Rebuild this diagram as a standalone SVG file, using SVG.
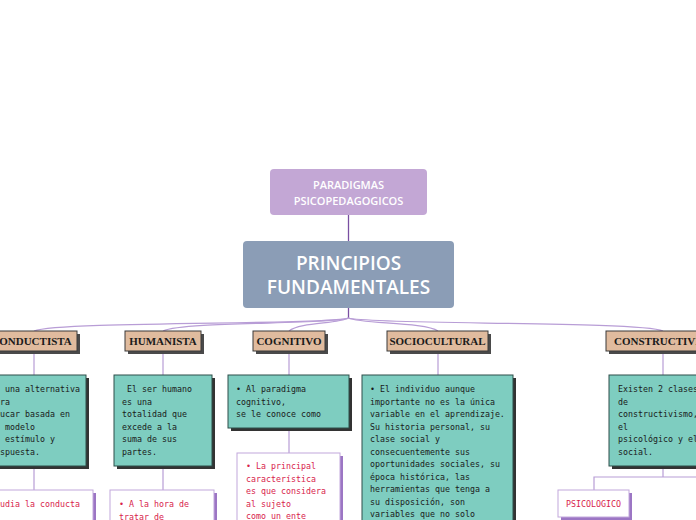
<svg xmlns="http://www.w3.org/2000/svg" width="696" height="520" viewBox="0 0 696 520">
<defs>
<style>
.top{fill:#c3a7d5}
.main{fill:#8b9db6}
.ttl{font-family:"Open Sans","Liberation Sans",sans-serif;fill:#fff;text-anchor:middle}
.cat{fill:#e0bb9e;stroke:#3a3a3a;stroke-width:1}
.catsh{fill:#4a4a4a}
.cattx{font-family:"Liberation Serif",serif;font-weight:bold;font-size:11px;fill:#1a1a1a;text-anchor:middle}
.teal{fill:#7ecdc0;stroke:#2e4f4a;stroke-width:1}
.tealsh{fill:#333}
.body{font-family:"DejaVu Sans Mono","Liberation Mono",monospace;font-size:8.3px;fill:#1a1a1a}
.wht{fill:#fff;stroke:#c2a8dc;stroke-width:1}
.whtsh{fill:#9c76c4}
.red{font-family:"DejaVu Sans Mono","Liberation Mono",monospace;font-size:8.3px;fill:#d8234c}
.con{fill:none;stroke:#b89dd6;stroke-width:1.2}
.cond{fill:none;stroke:#7a4fa2;stroke-width:1.3}
</style>
</defs>
<g id="connectors">
<line class="cond" x1="348.5" y1="215" x2="348.5" y2="241"/>
<line class="cond" x1="348.5" y1="308" x2="348.5" y2="318"/>
<path class="con" d="M348.5,318 C330,325 60,321 34,331"/>
<path class="con" d="M348.5,318 C330,325 185,321 163,331"/>
<path class="con" d="M348.5,318 C338,324 300,322 289,331"/>
<path class="con" d="M348.5,318 C360,324 425,322 438,331"/>
<path class="con" d="M348.5,318 C370,325 640,321 663,331"/>
<line class="con" x1="34" y1="351" x2="34" y2="375"/>
<line class="con" x1="163" y1="351" x2="163" y2="375"/>
<line class="con" x1="289" y1="351" x2="289" y2="375"/>
<line class="con" x1="438" y1="351" x2="438" y2="375"/>
<line class="con" x1="663" y1="351" x2="663" y2="375"/>
<line class="con" x1="34" y1="466" x2="34" y2="490"/>
<line class="con" x1="163" y1="466" x2="163" y2="490"/>
<line class="con" x1="289" y1="428" x2="289" y2="453"/>
<path class="con" d="M663,466 V477 M594,490 V477 H700"/>
</g>
<g id="paradigmas">
<rect class="top" x="270" y="169" width="157" height="46" rx="4"/>
<text class="ttl" font-size="11" font-weight="600" x="348.5" y="189">PARADIGMAS</text>
<text class="ttl" font-size="11" font-weight="600" x="348.5" y="205">PSICOPEDAGOGICOS</text>
</g>
<g id="principios">
<rect class="main" x="243" y="241" width="211" height="67" rx="4"/>
<text class="ttl" font-size="19" font-weight="600" x="348.5" y="270">PRINCIPIOS</text>
<text class="ttl" font-size="19" font-weight="600" x="348.5" y="294">FUNDAMENTALES</text>
</g>
<g id="conductista">
<rect class="catsh" x="-11" y="334" width="91" height="20"/>
<rect class="cat" x="-14" y="331" width="91" height="20"/>
<text class="cattx" x="31.5" y="345">CONDUCTISTA</text>
</g>
<g id="humanista">
<rect class="catsh" x="128" y="334" width="76" height="20"/>
<rect class="cat" x="125" y="331" width="76" height="20"/>
<text class="cattx" x="163" y="345">HUMANISTA</text>
</g>
<g id="cognitivo">
<rect class="catsh" x="256" y="334" width="72" height="20"/>
<rect class="cat" x="253" y="331" width="72" height="20"/>
<text class="cattx" x="289" y="345">COGNITIVO</text>
</g>
<g id="sociocultural">
<rect class="catsh" x="390" y="334" width="101" height="20"/>
<rect class="cat" x="387" y="331" width="101" height="20"/>
<text class="cattx" x="437.5" y="345">SOCIOCULTURAL</text>
</g>
<g id="constructivismo">
<rect class="catsh" x="609" y="334" width="120" height="20"/>
<rect class="cat" x="606" y="331" width="120" height="20"/>
<text class="cattx" x="614" y="345" style="text-anchor:start">CONSTRUCTIVISMO</text>
</g>
<g id="conductista-texto">
<rect class="tealsh" x="-17" y="378" width="106" height="91"/>
<rect class="teal" x="-20" y="375" width="106" height="91"/>
<text class="body" x="-10" y="392">Es una alternativa</text>
<text class="body" x="-10" y="404.5">para</text>
<text class="body" x="-10" y="417">educar basada en</text>
<text class="body" x="-10" y="429.5">el modelo</text>
<text class="body" x="-10" y="442">de estímulo y</text>
<text class="body" x="-10" y="454.5">respuesta.</text>
</g>
<g id="humanista-texto">
<rect class="tealsh" x="117" y="378" width="98" height="91"/>
<rect class="teal" x="114" y="375" width="98" height="91"/>
<text class="body" x="122" y="392" xml:space="preserve"> El ser humano</text>
<text class="body" x="122" y="404.5">es una</text>
<text class="body" x="122" y="417">totalidad que</text>
<text class="body" x="122" y="429.5">excede a la</text>
<text class="body" x="122" y="442">suma de sus</text>
<text class="body" x="122" y="454.5">partes.</text>
</g>
<g id="cognitivo-texto">
<rect class="tealsh" x="231" y="378" width="121" height="53"/>
<rect class="teal" x="228" y="375" width="121" height="53"/>
<text class="body" x="236" y="392">• Al paradigma</text>
<text class="body" x="236" y="404.5">cognitivo,</text>
<text class="body" x="236" y="417">se le conoce como</text>
</g>
<g id="sociocultural-texto">
<rect class="tealsh" x="365" y="378" width="151" height="160"/>
<rect class="teal" x="362" y="375" width="151" height="160"/>
<text class="body" x="370" y="392">• El individuo aunque</text>
<text class="body" x="370" y="404.5">importante no es la única</text>
<text class="body" x="370" y="417">variable en el aprendizaje.</text>
<text class="body" x="370" y="429.5">Su historia personal, su</text>
<text class="body" x="370" y="442">clase social y</text>
<text class="body" x="370" y="454.5">consecuentemente sus</text>
<text class="body" x="370" y="467">oportunidades sociales, su</text>
<text class="body" x="370" y="479.5">época histórica, las</text>
<text class="body" x="370" y="492">herramientas que tenga a</text>
<text class="body" x="370" y="504.5">su disposición, son</text>
<text class="body" x="370" y="517">variables que no solo</text>
</g>
<g id="constructivismo-texto">
<rect class="tealsh" x="612" y="378" width="110" height="91"/>
<rect class="teal" x="609" y="375" width="110" height="91"/>
<text class="body" x="618" y="392">Existen 2 clases</text>
<text class="body" x="618" y="404.5">de</text>
<text class="body" x="618" y="417">constructivismo,</text>
<text class="body" x="618" y="429.5">el</text>
<text class="body" x="618" y="442">psicológico y el</text>
<text class="body" x="618" y="454.5">social.</text>
</g>
<g id="conductista-sub">
<rect class="whtsh" x="-22" y="493" width="118" height="40"/>
<rect class="wht" x="-25" y="490" width="118" height="40"/>
<text class="red" x="-15" y="507">Estudia la conducta</text>
</g>
<g id="humanista-sub">
<rect class="whtsh" x="113" y="493" width="104" height="40"/>
<rect class="wht" x="110" y="490" width="104" height="40"/>
<text class="red" x="119" y="507">• A la hora de</text>
<text class="red" x="119" y="519.5">tratar de</text>
</g>
<g id="cognitivo-sub">
<rect class="whtsh" x="240" y="456" width="103" height="80"/>
<rect class="wht" x="237" y="453" width="103" height="80"/>
<text class="red" x="246" y="469">• La principal</text>
<text class="red" x="246" y="481.5">característica</text>
<text class="red" x="246" y="494">es que considera</text>
<text class="red" x="246" y="506.5">al sujeto</text>
<text class="red" x="246" y="519">como un ente</text>
</g>
<g id="psicologico">
<rect class="whtsh" x="561" y="493" width="71" height="27"/>
<rect class="wht" x="558" y="490" width="71" height="27"/>
<text class="red" x="593.5" y="506.5" text-anchor="middle">PSICOLOGICO</text>
</g>
</svg>
